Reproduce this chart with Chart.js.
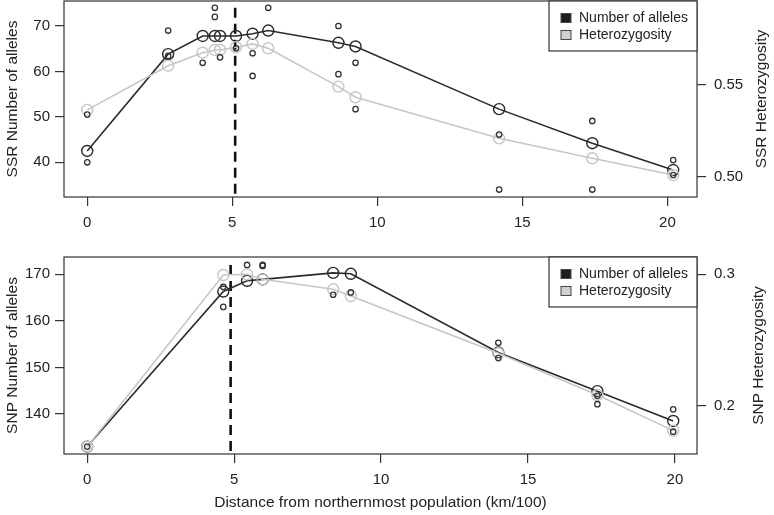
<!DOCTYPE html>
<html>
<head>
<meta charset="utf-8">
<script src="https://cdn.jsdelivr.net/npm/chart.js@4/dist/chart.umd.min.js"></script>
<style>
  html, body { margin: 0; padding: 0; background: #fff; }
  #wrap { position: relative; width: 774px; height: 515px; }
  canvas { position: absolute; left: 0; }
  #ssr { top: 0; }
  #snp { top: 240px; }
</style>
</head>
<body>
<div id="wrap">
  <canvas id="ssr" width="774" height="240"></canvas>
  <canvas id="snp" width="774" height="275"></canvas>
</div>
<script>
// --- SSR panel data (distance in km/100) ---
const ssrDist = [0, 2.79, 3.98, 4.40, 4.58, 5.13, 5.70, 6.24, 8.66, 9.25, 14.20, 17.41, 20.20]
const ssrAlleles = [42.5, 63.8, 67.8, 67.8, 67.8, 67.8, 68.3, 69.0, 66.3, 65.5, 51.7, 44.2, 38.3]
const ssrHet = [0.5364, 0.5605, 0.5676, 0.5691, 0.5691, 0.5706, 0.5724, 0.5700, 0.5491, 0.5433, 0.5209, 0.5100, 0.5009]
// single values (small circles)
const ssrPointDist = [0, 0, 2.79, 2.79, 3.98, 4.40, 4.40, 4.58, 5.13, 5.70, 5.70, 6.24, 8.66, 8.66, 9.25, 9.25, 14.20, 14.20, 17.41, 17.41, 20.20, 20.20]
const ssrPointAlleles = [50.5, 40.0, 69.0, 63.4, 61.9, 74.0, 72.0, 63.1, 65.1, 64.0, 59.0, 74.0, 70.0, 59.4, 61.9, 51.7, 46.1, 34.0, 49.1, 34.0, 40.5, 37.2]
const ssrCut = 5.1
const ssrCutSpan = [74, 32.36]

// --- SNP panel data ---
const snpDist = [0, 4.63, 5.44, 5.97, 8.37, 8.97, 13.99, 17.36, 19.94]
const snpAlleles = [133.0, 166.3, 168.6, 168.9, 170.3, 170.1, 153.2, 144.9, 138.5]
const snpHet = [0.1688, 0.2995, 0.3000, 0.2962, 0.2886, 0.2835, 0.2399, 0.2081, 0.1810]
const snpPointDist = [0, 4.63, 4.63, 5.44, 5.97, 5.97, 8.37, 8.97, 13.99, 13.99, 17.36, 17.36, 19.94, 19.94]
const snpPointAlleles = [133.0, 167.3, 163.0, 172.0, 172.0, 171.8, 165.6, 166.1, 155.3, 152.0, 143.9, 142.1, 141.0, 136.2]
const snpCut = 4.88
const snpCutSpan = [172, 131.41]

// --- ticks and labels ---
const distTicks = [0, 5, 10, 15, 20]
const ssrAlleleTicks = [40, 50, 60, 70]
const ssrHetTicks = [0.50, 0.55]
const ssrHetLabels = ['0.50', '0.55']
const snpAlleleTicks = [140, 150, 160, 170]
const snpHetTicks = [0.2, 0.3]
const snpHetLabels = ['0.2', '0.3']
const seriesNames = ['Number of alleles', 'Heterozygosity']

const FONT = '"Liberation Sans", Arial, Helvetica, sans-serif'
const DARK = '#2a2a2a'
const LIGHT = '#c6c6c6'
Chart.defaults.font.family = FONT
Chart.defaults.color = '#222'

const pairs = (xs, ys) => xs.map((x, i) => ({ x, y: ys[i] }))

// plot box, legend and right axis title (R style)
const framePlugin = {
  id: 'frame',
  afterDraw(chart, args, opts) {
    const { ctx, chartArea: a } = chart
    ctx.save()
    ctx.strokeStyle = '#333'
    ctx.lineWidth = 1.2
    ctx.strokeRect(a.left, a.top, a.right - a.left, a.bottom - a.top)

    // legend
    const lw = 148, lh = 50
    const lx = a.right - lw, ly = a.top
    ctx.fillStyle = '#fff'
    ctx.fillRect(lx, ly, lw, lh)
    ctx.strokeRect(lx, ly, lw, lh)
    ctx.font = '14px ' + FONT
    ctx.textBaseline = 'middle'
    opts.items.forEach((it, i) => {
      const cy = ly + 17 + i * 17
      ctx.fillStyle = it.fill
      ctx.fillRect(lx + 12, cy - 4.5, 10, 9)
      ctx.strokeStyle = '#444'
      ctx.lineWidth = 1
      ctx.strokeRect(lx + 12, cy - 4.5, 10, 9)
      ctx.fillStyle = '#222'
      ctx.fillText(it.text, lx + 30, cy)
    })

    // right axis title, reading bottom to top
    ctx.translate(opts.rightTitleX, (a.top + a.bottom) / 2)
    ctx.rotate(-Math.PI / 2)
    ctx.textAlign = 'center'
    ctx.font = '15.5px ' + FONT
    ctx.fillStyle = '#222'
    ctx.fillText(opts.rightTitle, 0, 0)
    ctx.restore()
  }
}

function tickGrid() {
  return { drawOnChartArea: false, drawTicks: true, tickLength: 9, color: '#333', lineWidth: 1.2 }
}

// fixed axis sizes so the plot box sits where the reference has it
function fixWidth(w) {
  return s => { s.width = w; s.paddingTop = 0; s.paddingBottom = 0 }
}
function fixHeight(h) {
  return s => { s.height = h; s.paddingLeft = 0; s.paddingRight = 0 }
}

function makePanel(id, p) {
  return new Chart(document.getElementById(id), {
    type: 'scatter',
    data: {
      datasets: [
        {
          label: 'values',
          data: pairs(p.pointDist, p.pointAlleles),
          yAxisID: 'y',
          showLine: false,
          pointRadius: 2.7,
          pointBorderWidth: 1.3,
          pointBorderColor: '#333',
          pointBackgroundColor: 'rgba(0,0,0,0)'
        },
        {
          label: seriesNames[1],
          data: pairs(p.dist, p.het),
          yAxisID: 'y2',
          showLine: true,
          borderColor: LIGHT,
          borderWidth: 1.6,
          pointRadius: 5.5,
          pointBorderWidth: 1.4,
          pointBorderColor: LIGHT,
          pointBackgroundColor: 'rgba(0,0,0,0)'
        },
        {
          label: seriesNames[0],
          data: pairs(p.dist, p.alleles),
          yAxisID: 'y',
          showLine: true,
          borderColor: DARK,
          borderWidth: 1.6,
          pointRadius: 5.5,
          pointBorderWidth: 1.4,
          pointBorderColor: DARK,
          pointBackgroundColor: 'rgba(0,0,0,0)'
        },
        {
          label: 'cutoff',
          data: [{ x: p.cut, y: p.cutSpan[0] }, { x: p.cut, y: p.cutSpan[1] }],
          yAxisID: 'y',
          showLine: true,
          borderColor: '#111',
          borderWidth: 2.6,
          borderDash: [10, 6],
          pointRadius: 0
        }
      ]
    },
    options: {
      responsive: false,
      animation: false,
      events: [],
      layout: { autoPadding: false, padding: { top: p.padTop, left: 0, right: 0, bottom: 0 } },
      plugins: {
        legend: { display: false },
        tooltip: { enabled: false },
        frame: {
          rightTitle: p.rightTitle,
          rightTitleX: p.rightTitleX,
          items: [
            { text: seriesNames[0], fill: '#1e1e1e' },
            { text: seriesNames[1], fill: '#d2d2d2' }
          ]
        }
      },
      scales: {
        x: {
          type: 'linear',
          min: p.xRange[0],
          max: p.xRange[1],
          afterBuildTicks: s => { s.ticks = distTicks.map(v => ({ value: v })) },
          afterFit: fixHeight(p.xAxisHeight),
          grid: tickGrid(),
          border: { display: false },
          ticks: { padding: p.xTickPad, font: { size: 15 }, color: '#222' },
          title: {
            display: !!p.xTitle,
            text: p.xTitle || '',
            font: { size: 15.5 },
            color: '#222',
            padding: { top: 0, bottom: 3 }
          }
        },
        y: {
          type: 'linear',
          position: 'left',
          min: p.yRange[0],
          max: p.yRange[1],
          afterBuildTicks: s => { s.ticks = p.yTicks.map(v => ({ value: v })) },
          afterFit: fixWidth(64),
          grid: tickGrid(),
          border: { display: false },
          ticks: { padding: 5, font: { size: 15 }, color: '#222' },
          title: {
            display: true,
            text: p.leftTitle,
            font: { size: 15.5 },
            color: '#222',
            padding: { top: 3, bottom: 0 }
          }
        },
        y2: {
          type: 'linear',
          position: 'right',
          min: p.y2Range[0],
          max: p.y2Range[1],
          afterBuildTicks: s => { s.ticks = p.y2Ticks.map(v => ({ value: v })) },
          afterFit: fixWidth(77),
          grid: tickGrid(),
          border: { display: false },
          ticks: {
            padding: 8,
            font: { size: 15 },
            color: '#222',
            callback: (v, i) => p.y2Labels[i]
          }
        }
      }
    },
    plugins: [framePlugin]
  })
}

makePanel('ssr', {
  dist: ssrDist, alleles: ssrAlleles, het: ssrHet,
  pointDist: ssrPointDist, pointAlleles: ssrPointAlleles,
  cut: ssrCut, cutSpan: ssrCutSpan,
  xRange: [-0.80, 21.02], yRange: [32.36, 75.5], y2Range: [0.4889, 0.5958],
  yTicks: ssrAlleleTicks, y2Ticks: ssrHetTicks, y2Labels: ssrHetLabels,
  padTop: 1, xAxisHeight: 43, xTickPad: 8,
  leftTitle: 'SSR Number of alleles',
  rightTitle: 'SSR Heterozygosity', rightTitleX: 762
})

makePanel('snp', {
  dist: snpDist, alleles: snpAlleles, het: snpHet,
  pointDist: snpPointDist, pointAlleles: snpPointAlleles,
  cut: snpCut, cutSpan: snpCutSpan,
  xRange: [-0.79, 20.75], yRange: [131.41, 173.71], y2Range: [0.1632, 0.3132],
  yTicks: snpAlleleTicks, y2Ticks: snpHetTicks, y2Labels: snpHetLabels,
  padTop: 17, xAxisHeight: 61, xTickPad: 8,
  xTitle: 'Distance from northernmost population (km/100)',
  leftTitle: 'SNP Number of alleles',
  rightTitle: 'SNP Heterozygosity', rightTitleX: 759
})
</script>
</body>
</html>
